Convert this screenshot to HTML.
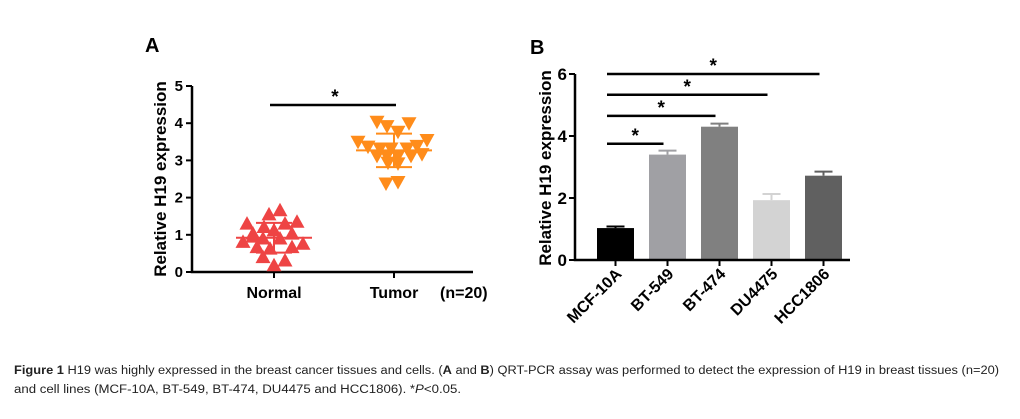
<!DOCTYPE html>
<html><head><meta charset="utf-8"><style>
html,body{margin:0;padding:0;background:#fff;width:1020px;height:419px;overflow:hidden}
svg{display:block;font-family:"Liberation Sans",Arial,sans-serif}
</style></head><body>
<svg id="fig" width="1020" height="419" viewBox="0 0 1020 419">
<g id="pa"></g>
<g id="pb"></g>
<g font-size="11.5" fill="#222">
<text x="14" y="374" textLength="985" lengthAdjust="spacingAndGlyphs"><tspan font-weight="bold">Figure 1</tspan> H19 was highly expressed in the breast cancer tissues and cells. (<tspan font-weight="bold">A</tspan> and <tspan font-weight="bold">B</tspan>) QRT-PCR assay was performed to detect the expression of H19 in breast tissues (n=20)</text>
<text x="14" y="393" textLength="447" lengthAdjust="spacingAndGlyphs">and cell lines (MCF-10A, BT-549, BT-474, DU4475 and HCC1806). *<tspan font-style="italic">P</tspan>&lt;0.05.</text>
</g>
</svg>
<script>
const NS='http://www.w3.org/2000/svg';
function mk(p,t,a){const e=document.createElementNS(NS,t);for(const k in a)e.setAttribute(k,a[k]);p.appendChild(e);return e;}
// ---- Panel A data ----
const groupsA=['Normal','Tumor'];
const normalVals=[1.3,1.55,1.66,1.21,1.3,1.35,1.12,1.03,1.03,0.81,0.9,0.9,0.76,0.67,0.63,0.67,0.4,0.31,0.18,0.95];
const normalOff=[-27,-5,6,-10,11,23,0,-21,18,-31,-11,6,29,-17,-4,18,-11,11,0,-21];
const tumorVals=[4.04,3.92,4.0,3.77,3.5,3.37,3.55,3.39,3.32,3.32,3.32,3.12,3.12,3.12,3.17,2.94,2.92,2.38,2.42,3.12];
const tumorOff=[-17,-7,15,4,-36,-26,33,23,-14,-3,13,-17,-7,4,28,-6,4,-8,4,17];
const meanA=[0.92,3.27], sdA=[0.4,0.45];
const ticksA=[0,1,2,3,4,5];
// ---- Panel B data ----
const cats=['MCF-10A','BT-549','BT-474','DU4475','HCC1806'];
const barVals=[1.03,3.4,4.3,1.93,2.72];
const barErr=[0.05,0.13,0.1,0.2,0.13];
const barColors=['#000000','#a0a0a4','#808080','#d3d3d3','#606060'];
const sigTo=[1,2,3,4], sigY=[3.75,4.65,5.33,6.0];
const ticksB=[0,2,4,6];

const pa=document.getElementById('pa');
const yA=v=>272-v*37.2, xA=i=>274+i*120;
let t=mk(pa,'text',{x:145,y:52,'font-size':20,'font-weight':'bold'});t.textContent='A';

t=mk(pa,'text',{transform:'translate(166,179) rotate(-90)','text-anchor':'middle','font-size':17,'font-weight':'bold'});t.textContent='Relative H19 expression';

let ax=mk(pa,'path',{d:'M192,'+yA(5)+'V272H473',stroke:'#000','stroke-width':2.5,fill:'none'});

ticksA.forEach(v=>{mk(pa,'line',{x1:186,x2:192,y1:yA(v),y2:yA(v),stroke:'#000','stroke-width':2});
 const l=mk(pa,'text',{x:183,y:yA(v)+5,'text-anchor':'end','font-size':15,'font-weight':'bold'});l.textContent=v;
 });
groupsA.forEach((g,i)=>{mk(pa,'line',{x1:xA(i),x2:xA(i),y1:272,y2:278,stroke:'#000','stroke-width':2});
 const l=mk(pa,'text',{x:xA(i),y:298,'text-anchor':'middle','font-size':16,'font-weight':'bold'});l.textContent=g;
 });
t=mk(pa,'text',{x:440,y:298,'font-size':16,'font-weight':'bold'});t.textContent='(n=20)';

function tri(cx,cy,up,col,name){const s=7.5;const d=up?`M${cx},${cy-s}L${cx+s},${cy+s*0.8}L${cx-s},${cy+s*0.8}Z`:`M${cx},${cy+s}L${cx+s},${cy-s*0.8}L${cx-s},${cy-s*0.8}Z`;
 const p=mk(pa,'path',{d,fill:col});}
normalVals.forEach((v,i)=>tri(xA(0)+normalOff[i],yA(v),true,'#ee4444','normal-point'));
tumorVals.forEach((v,i)=>tri(xA(1)+tumorOff[i],yA(v),false,'#ff8c1a','tumor-point'));
['#ee4444','#ff8c1a'].forEach((c,i)=>{const x=xA(i);
 const e=mk(pa,'path',{d:`M${x-38},${yA(meanA[i])}H${x+38}M${x-18},${yA(meanA[i]+sdA[i])}H${x+18}M${x-18},${yA(meanA[i]-sdA[i])}H${x+18}M${x},${yA(meanA[i]+sdA[i])}V${yA(meanA[i]-sdA[i])}`,stroke:c,'stroke-width':2,fill:'none'});
 });
mk(pa,'line',{x1:270,x2:396,y1:105,y2:105,stroke:'#000','stroke-width':2.5});
t=mk(pa,'text',{x:335,y:103,'text-anchor':'middle','font-size':19,'font-weight':'bold'});t.textContent='*';


const pb=document.getElementById('pb');
const yB=v=>260-v*31, xB=i=>615.5+i*52, bw=37;
t=mk(pb,'text',{x:530,y:54,'font-size':20,'font-weight':'bold'});t.textContent='B';

t=mk(pb,'text',{transform:'translate(551,168) rotate(-90)','text-anchor':'middle','font-size':17,'font-weight':'bold'});t.textContent='Relative H19 expression';

barVals.forEach((v,i)=>{const x=xB(i);
 const r=mk(pb,'rect',{x:x-bw/2,y:yB(v),width:bw,height:260-yB(v),fill:barColors[i]});
 
 const e=mk(pb,'path',{d:`M${x},${yB(v)}V${yB(v+barErr[i])}M${x-9},${yB(v+barErr[i])}H${x+9}`,stroke:i==0?'#000':barColors[i],'stroke-width':2,fill:'none'});
 });
ax=mk(pb,'path',{d:'M575,'+yB(6)+'V260H850',stroke:'#000','stroke-width':2.5,fill:'none'});

ticksB.forEach(v=>{mk(pb,'line',{x1:569,x2:575,y1:yB(v),y2:yB(v),stroke:'#000','stroke-width':2});
 const l=mk(pb,'text',{x:567,y:yB(v)+6,'text-anchor':'end','font-size':17,'font-weight':'bold'});l.textContent=v;
 });
cats.forEach((c,i)=>{const x=xB(i);mk(pb,'line',{x1:x,x2:x,y1:260,y2:266,stroke:'#000','stroke-width':2});
 const l=mk(pb,'text',{transform:`translate(${x+7},${275}) rotate(-45)`,'text-anchor':'end','font-size':16,'font-weight':'bold'});l.textContent=c;
 });
sigTo.forEach((j,k)=>{const y=yB(sigY[k]);const x2=xB(j)-4;
 const ln=mk(pb,'line',{x1:607,x2:x2,y1:y,y2:y,stroke:'#000','stroke-width':2.5});
 
 const s=mk(pb,'text',{x:(607+x2)/2,y:y-2,'text-anchor':'middle','font-size':19,'font-weight':'bold'});s.textContent='*';
 });
</script>
</body></html>
